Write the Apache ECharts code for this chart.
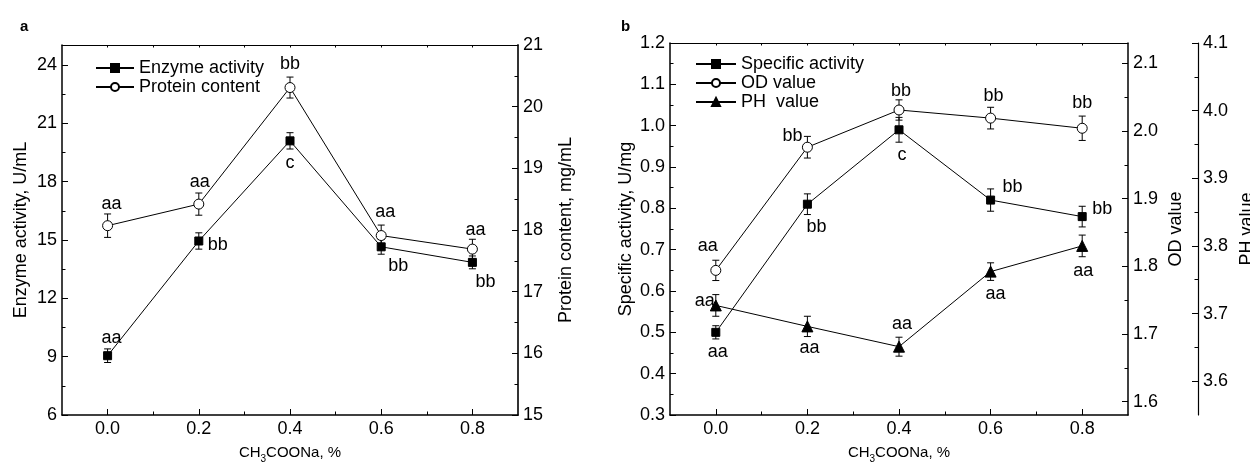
<!DOCTYPE html>
<html>
<head>
<meta charset="utf-8">
<title>CH3COONa</title>
<script src="https://cdn.jsdelivr.net/npm/echarts@6.0.0/dist/echarts.min.js"></script>
<style>
html, body { margin: 0; padding: 0; background: #fff; }
#chart { width: 1250px; height: 462px; }
</style>
</head>
<body>
<div id="chart"></div>
<script>
/* x轴: CH3COONa, % */
var xValues = [0, 0.2, 0.4, 0.6, 0.8];
var xTicks = [0, 0.2, 0.4, 0.6, 0.8];
var xMinorTicks = [0.1, 0.3, 0.5, 0.7];
var xTopTicks = [0, 0.1, 0.2, 0.3, 0.4, 0.5, 0.6, 0.7, 0.8];

/* 图a: 酶活 / 蛋白含量 */
var enzymeActivity = [9.05, 14.95, 20.1, 14.65, 13.85];
var enzymeErr = [0.35, 0.42, 0.42, 0.38, 0.33];
var enzymeLetters = ['aa', 'bb', 'c', 'bb', 'bb'];
var proteinContent = [18.07, 18.42, 20.31, 17.91, 17.69];
var proteinErr = [0.19, 0.18, 0.17, 0.17, 0.16];
var proteinLetters = ['aa', 'aa', 'bb', 'aa', 'aa'];
var aLeftTicks = [6, 9, 12, 15, 18, 21, 24];
var aLeftMinor = [7.5, 10.5, 13.5, 16.5, 19.5, 22.5];
var aRightTicks = [15, 16, 17, 18, 19, 20, 21];
var aRightMinor = [15.5, 16.5, 17.5, 18.5, 19.5, 20.5];

/* 图b: 比活 / OD / PH */
var specificActivity = [0.50, 0.81, 0.99, 0.82, 0.78];
var specificErr = [0.016, 0.025, 0.03, 0.027, 0.025];
var specificLetters = ['aa', 'bb', 'c', 'bb', 'bb'];
var odValue = [1.794, 1.976, 2.031, 2.019, 2.004];
var odErr = [0.015, 0.016, 0.015, 0.016, 0.018];
var odLetters = ['aa', 'bb', 'bb', 'bb', 'bb'];
var phValue = [3.712, 3.681, 3.651, 3.762, 3.80];
var phErr = [0.016, 0.015, 0.014, 0.013, 0.016];
var phLetters = ['aa', 'aa', 'aa', 'aa', 'aa'];
var bLeftTicks = [0.3, 0.4, 0.5, 0.6, 0.7, 0.8, 0.9, 1.0, 1.1, 1.2];
var bLeftMinor = [0.35, 0.45, 0.55, 0.65, 0.75, 0.85, 0.95, 1.05, 1.15];
var odTicks = [1.6, 1.7, 1.8, 1.9, 2.0, 2.1];
var odMinor = [1.65, 1.75, 1.85, 1.95, 2.05];
var phTicks = [3.6, 3.7, 3.8, 3.9, 4.0, 4.1];
var phMinor = [3.65, 3.75, 3.85, 3.95, 4.05];

/* 字母标注的偏移 (相对数据点, 像素) */
var enzymeLabelOffset = [[4, -18], [19, 4], [0, 22], [17, 19], [13, 20]];
var proteinLabelOffset = [[4, -22], [1, -22], [0, -24], [4, -24], [3, -19]];
var specificLabelOffset = [[2, 20], [9, 23], [3, 25], [22, -13], [20, -8]];
var odLabelOffset = [[-8, -24], [-15, -11], [2, -19], [3, -22], [0, -25]];
var phLabelOffset = [[-11, -4], [2, 22], [3, -23], [5, 22], [1, 25]];

var FONT = '"Liberation Sans", Arial, sans-serif';

/**
 * @desc 数值轴 (主刻度 + 标签)
 */
function mainAxis(o) {
    return {
        type: 'value',
        gridIndex: o.grid,
        position: o.position,
        offset: o.offset || 0,
        min: o.min,
        max: o.max,
        axisLine: { show: true, onZero: false, lineStyle: { color: o.lineColor || '#000', width: o.lineWidth || 1.5 } },
        axisTick: { show: true, inside: true, length: 6, customValues: o.ticks, lineStyle: { color: '#000', width: 1 } },
        axisLabel: {
            show: true, customValues: o.ticks, margin: 5, color: '#000', fontSize: 18, fontFamily: FONT,
            formatter: function (v) { return o.digits ? v.toFixed(o.digits) : String(v); }
        },
        splitLine: { show: false },
        name: o.name,
        nameLocation: 'middle',
        nameGap: o.nameGap,
        nameRotate: o.nameRotate,
        nameTextStyle: { color: '#000', fontSize: o.nameSize || 18, fontFamily: FONT, rich: o.rich }
    };
}

/**
 * @desc 次刻度 (叠在主轴上)
 */
function minorAxis(o) {
    return {
        type: 'value',
        gridIndex: o.grid,
        position: o.position,
        offset: o.offset || 0,
        min: o.min,
        max: o.max,
        axisLine: { show: false, onZero: false },
        axisTick: { show: true, inside: true, length: o.len || 3.5, customValues: o.ticks, lineStyle: { color: '#000', width: 1 } },
        axisLabel: { show: false },
        splitLine: { show: false }
    };
}

function lineData(values, letters, offsets) {
    return xValues.map(function (x, i) {
        return { value: [x, values[i]], label: { formatter: letters[i], offset: offsets[i] } };
    });
}

function lineSeries(name, xi, yi, values, letters, offsets, symbol, size, fill) {
    return {
        type: 'line', name: name, xAxisIndex: xi, yAxisIndex: yi,
        data: lineData(values, letters, offsets),
        symbol: symbol, symbolSize: size, showAllSymbol: true,
        lineStyle: { color: '#000', width: 1 },
        itemStyle: { color: fill, borderColor: '#000', borderWidth: 1 },
        label: { show: true, position: 'inside', color: '#000', fontSize: 18, fontFamily: FONT },
        emphasis: { disabled: true },
        z: 3, animation: false
    };
}

function errorSeries(xi, yi, values, errs) {
    return {
        type: 'custom', xAxisIndex: xi, yAxisIndex: yi, silent: true, z: 2, animation: false,
        encode: { x: 0, y: [1, 2] },
        data: xValues.map(function (x, i) { return [x, values[i] - errs[i], values[i] + errs[i]]; }),
        renderItem: function (params, api) {
            var lo = api.coord([api.value(0), api.value(1)]);
            var hi = api.coord([api.value(0), api.value(2)]);
            var w = 3.5;
            var st = { stroke: '#000', lineWidth: 1 };
            return {
                type: 'group',
                children: [
                    { type: 'line', shape: { x1: lo[0], y1: lo[1], x2: hi[0], y2: hi[1] }, style: st },
                    { type: 'line', shape: { x1: lo[0] - w, y1: lo[1], x2: lo[0] + w, y2: lo[1] }, style: st },
                    { type: 'line', shape: { x1: hi[0] - w, y1: hi[1], x2: hi[0] + w, y2: hi[1] }, style: st }
                ]
            };
        }
    };
}

var xName = '{n|CH}{s|3}{n|COONa, %}';
var xRich = {
    n: { fontSize: 15, fontFamily: FONT, color: '#000', verticalAlign: 'bottom', lineHeight: 18 },
    s: { fontSize: 10, fontFamily: FONT, color: '#000', verticalAlign: 'bottom', lineHeight: 12, padding: [0, 0, -4, 0] }
};

function xAxes(grid) {
    var base = { grid: grid, min: -0.1, max: 0.9 };
    var bottom = mainAxis(Object.assign({}, base, { position: 'bottom', ticks: xTicks, digits: 1, name: xName, nameGap: 27, nameSize: 15, rich: xRich }));
    var minor = minorAxis(Object.assign({}, base, { position: 'bottom', ticks: xMinorTicks }));
    var top = minorAxis(Object.assign({}, base, { position: 'top', ticks: xTopTicks, len: 2.5 }));
    top.axisLine = { show: true, onZero: false, lineStyle: { color: '#000', width: 1 } };
    return [bottom, minor, top];
}

var chart = echarts.init(document.getElementById('chart'));

var option = {
    backgroundColor: '#fff',
    animation: false,
    title: [
        { text: 'a', left: 15, top: 14, textStyle: { fontSize: 15, fontWeight: 'bold', color: '#000', fontFamily: FONT } },
        { text: 'b', left: 616, top: 14, textStyle: { fontSize: 15, fontWeight: 'bold', color: '#000', fontFamily: FONT } }
    ],
    grid: [
        { left: 62, top: 45, width: 456, height: 370, outerBoundsMode: 'none' },
        { left: 670, top: 43, width: 458, height: 372, outerBoundsMode: 'none' }
    ],
    legend: [
        {
            data: ['Enzyme activity', 'Protein content'], orient: 'vertical', left: 95, top: 59, padding: 0,
            itemWidth: 38, itemHeight: 10, itemGap: 1, selectedMode: false,
            textStyle: { color: '#000', fontSize: 18, fontFamily: FONT }
        },
        {
            data: ['Specific activity', 'OD value', 'PH  value'], orient: 'vertical', left: 695, top: 55, padding: 0,
            itemWidth: 40, itemHeight: 10, itemGap: 1, selectedMode: false,
            textStyle: { color: '#000', fontSize: 18, fontFamily: FONT }
        }
    ],
    xAxis: xAxes(0).concat(xAxes(1)),
    yAxis: [
        mainAxis({ grid: 0, position: 'left', min: 6, max: 25.03, ticks: aLeftTicks, name: 'Enzyme activity, U/mL', nameGap: 32, nameRotate: 90 }),
        minorAxis({ grid: 0, position: 'left', min: 6, max: 25.03, ticks: aLeftMinor }),
        mainAxis({ grid: 0, position: 'right', min: 15, max: 21, ticks: aRightTicks, lineColor: '#333', lineWidth: 2, name: 'Protein content, mg/mL', nameGap: 39, nameRotate: 90 }),
        minorAxis({ grid: 0, position: 'right', min: 15, max: 21, ticks: aRightMinor }),
        mainAxis({ grid: 1, position: 'left', min: 0.3, max: 1.2, ticks: bLeftTicks, digits: 1, name: 'Specific activity, U/mg', nameGap: 35, nameRotate: 90 }),
        minorAxis({ grid: 1, position: 'left', min: 0.3, max: 1.2, ticks: bLeftMinor }),
        mainAxis({ grid: 1, position: 'right', min: 1.5803, max: 2.13, ticks: odTicks, digits: 1, name: 'OD value', nameGap: 39, nameRotate: 90 }),
        minorAxis({ grid: 1, position: 'right', min: 1.5803, max: 2.13, ticks: odMinor }),
        mainAxis({ grid: 1, position: 'right', offset: 70, min: 3.55, max: 4.1, ticks: phTicks, digits: 1, name: 'PH value', nameGap: 40, nameRotate: 90, lineWidth: 1.2 }),
        minorAxis({ grid: 1, position: 'right', offset: 70, min: 3.55, max: 4.1, ticks: phMinor })
    ],
    series: [
        errorSeries(0, 0, enzymeActivity, enzymeErr),
        errorSeries(0, 2, proteinContent, proteinErr),
        lineSeries('Enzyme activity', 0, 0, enzymeActivity, enzymeLetters, enzymeLabelOffset, 'rect', 8, '#000'),
        lineSeries('Protein content', 0, 2, proteinContent, proteinLetters, proteinLabelOffset, 'circle', 10, '#fff'),

        errorSeries(3, 4, specificActivity, specificErr),
        errorSeries(3, 6, odValue, odErr),
        errorSeries(3, 8, phValue, phErr),
        lineSeries('Specific activity', 3, 4, specificActivity, specificLetters, specificLabelOffset, 'rect', 8, '#000'),
        lineSeries('OD value', 3, 6, odValue, odLetters, odLabelOffset, 'circle', 10, '#fff'),
        lineSeries('PH  value', 3, 8, phValue, phLetters, phLabelOffset, 'triangle', 11, '#000')
    ]
};

chart.setOption(option, true);
window.addEventListener('resize', function () {
    chart.resize();
});
</script>
</body>
</html>
